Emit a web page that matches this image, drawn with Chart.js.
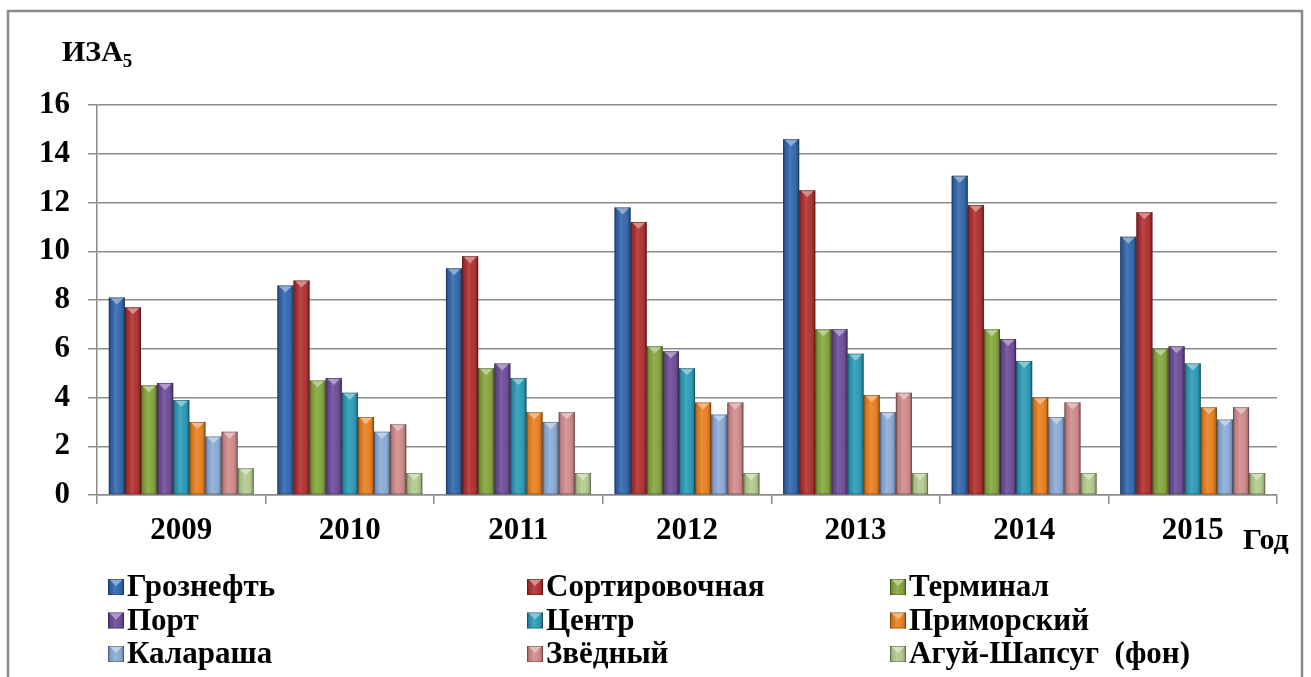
<!DOCTYPE html>
<html lang="ru">
<head>
<meta charset="utf-8">
<title>ИЗА5 по годам</title>
<script src="https://cdn.jsdelivr.net/npm/chart.js@4/dist/chart.umd.min.js"></script>
<style>
  html, body { margin: 0; padding: 0; background: #ffffff; }
  #wrap { width: 1311px; height: 677px; position: relative; }
</style>
</head>
<body>
<div id="wrap"><canvas id="c" width="1311" height="677"></canvas></div>
<script>
// Годы наблюдений
const years = ['2009', '2010', '2011', '2012', '2013', '2014', '2015'];

// Индекс загрязнения атмосферы (ИЗА5) по постам
const grozneft        = [8.1, 8.6, 9.3, 11.8, 14.6, 13.1, 10.6];
const sortirovochnaya = [7.7, 8.8, 9.8, 11.2, 12.5, 11.9, 11.6];
const terminal        = [4.5, 4.7, 5.2, 6.1, 6.8, 6.8, 6.0];
const port            = [4.6, 4.8, 5.4, 5.9, 6.8, 6.4, 6.1];
const centr           = [3.9, 4.2, 4.8, 5.2, 5.8, 5.5, 5.4];
const primorsky       = [3.0, 3.2, 3.4, 3.8, 4.1, 4.0, 3.6];
const kalarasha       = [2.4, 2.6, 3.0, 3.3, 3.4, 3.2, 3.1];
const zvezdny         = [2.6, 2.9, 3.4, 3.8, 4.2, 3.8, 3.6];
const aguiShapsug     = [1.1, 0.9, 0.9, 0.9, 0.9, 0.9, 0.9];

const seriesNames = ['Грознефть', 'Сортировочная', 'Терминал', 'Порт', 'Центр',
                     'Приморский', 'Калараша', 'Звёдный', 'Агуй-Шапсуг  (фон)'];
const seriesData = [grozneft, sortirovochnaya, terminal, port, centr,
                    primorsky, kalarasha, zvezdny, aguiShapsug];
const seriesColors = ['#3166AC', '#B02F2F', '#84A53B', '#6B4B97', '#2B9AB6',
                      '#E87F1F', '#8AAAD6', '#D08A8A', '#B2CA8D'];

// Y-axis ticks
const yMin = 0, yMax = 16, yStep = 2;

const FONT = "'Times New Roman', Times, Tinos, 'Liberation Serif', 'Nimbus Roman', 'Noto Serif', 'DejaVu Serif', FreeSerif, serif";
const GRID = '#8c8c8c';

function lighten(hex, amt) {
  const n = parseInt(hex.slice(1), 16);
  let r = (n >> 16) & 255, g = (n >> 8) & 255, b = n & 255;
  r = Math.round(r + (255 - r) * amt);
  g = Math.round(g + (255 - g) * amt);
  b = Math.round(b + (255 - b) * amt);
  return `rgb(${r},${g},${b})`;
}

// Bevelled look for a rectangle (bar or legend swatch)
function shadeRect(ctx, x0, y0, w, h, color) {
  const g = ctx.createLinearGradient(x0, 0, x0 + w, 0);
  g.addColorStop(0, 'rgba(0,0,0,0.30)');
  g.addColorStop(0.18, 'rgba(0,0,0,0.05)');
  g.addColorStop(0.40, 'rgba(255,255,255,0.12)');
  g.addColorStop(0.65, 'rgba(255,255,255,0.04)');
  g.addColorStop(0.88, 'rgba(0,0,0,0.12)');
  g.addColorStop(1, 'rgba(0,0,0,0.35)');
  ctx.fillStyle = g;
  ctx.fillRect(x0, y0, w, h);
  // top bevel triangle
  const th = Math.min(7, h);
  ctx.beginPath();
  ctx.moveTo(x0 + 1.5, y0 + 0.5);
  ctx.lineTo(x0 + w - 1.5, y0 + 0.5);
  ctx.lineTo(x0 + w / 2, y0 + th);
  ctx.closePath();
  ctx.fillStyle = lighten(color, 0.45);
  ctx.fill();
  ctx.strokeStyle = 'rgba(0,0,0,0.25)';
  ctx.lineWidth = 1;
  ctx.strokeRect(x0 + 0.5, y0 + 0.5, w - 1, h - 1);
}

const decorPlugin = {
  id: 'decor',
  afterDatasetsDraw(chart) {
    const ctx = chart.ctx;
    ctx.save();
    chart.data.datasets.forEach((ds, i) => {
      const meta = chart.getDatasetMeta(i);
      meta.data.forEach(bar => {
        const p = bar.getProps(['x', 'y', 'base', 'width'], true);
        const x0 = p.x - p.width / 2;
        const top = Math.min(p.y, p.base);
        const h = Math.abs(p.base - p.y);
        if (h > 0) shadeRect(ctx, x0, top, p.width, h, ds.backgroundColor);
      });
    });
    ctx.restore();
  },
  afterDraw(chart) {
    const ctx = chart.ctx;
    ctx.save();
    // frame
    ctx.strokeStyle = '#8a8a8a';
    ctx.lineWidth = 2.5;
    ctx.beginPath();
    ctx.moveTo(8, 690);
    ctx.lineTo(8, 11);
    ctx.lineTo(1302, 11);
    ctx.lineTo(1302, 690);
    ctx.stroke();

    // axis captions
    ctx.fillStyle = '#000';
    ctx.textBaseline = 'alphabetic';
    ctx.textAlign = 'left';
    ctx.font = 'bold 30px ' + FONT;
    ctx.fillText('ИЗА', 62, 61);
    const w = ctx.measureText('ИЗА').width;
    ctx.font = 'bold 19px ' + FONT;
    ctx.fillText('5', 62 + w, 67);

    ctx.font = 'bold 30px ' + FONT;
    ctx.fillText('Год', 1243, 549);

    // legend: three columns, three rows
    const colX = [108, 527, 890];
    const rowY = [587, 620.5, 654];
    ctx.textBaseline = 'middle';
    chart.data.datasets.forEach((ds, i) => {
      const x = colX[i % 3], y = rowY[Math.floor(i / 3)];
      ctx.fillStyle = ds.backgroundColor;
      ctx.fillRect(x, y - 8, 16, 16);
      shadeRect(ctx, x, y - 8, 16, 16, ds.backgroundColor);
      ctx.fillStyle = '#000';
      ctx.font = 'bold 31px ' + FONT;
      ctx.fillText(ds.label, x + 19, y + 1);
    });
    ctx.restore();
  }
};

new Chart(document.getElementById('c'), {
  type: 'bar',
  data: {
    labels: years,
    datasets: seriesNames.map((name, i) => ({
      label: name,
      data: seriesData[i],
      backgroundColor: seriesColors[i],
      borderWidth: 0,
      categoryPercentage: 0.86,
      barPercentage: 1.0
    }))
  },
  options: {
    responsive: false,
    animation: false,
    layout: { padding: { top: 105, left: 0, right: 34, bottom: 122 } },
    plugins: {
      legend: { display: false },
      tooltip: { enabled: false }
    },
    scales: {
      x: {
        grid: { drawOnChartArea: false, drawTicks: true, tickLength: 9, color: GRID, lineWidth: 1.5, offset: true },
        border: { color: GRID, width: 1.5 },
        ticks: { color: '#000', font: { family: FONT, size: 31, weight: 'bold' }, padding: 8, maxRotation: 0 },
        afterFit(scale) { scale.height = 60; }
      },
      y: {
        min: yMin, max: yMax,
        ticks: { stepSize: yStep, color: '#000', font: { family: FONT, size: 31, weight: 'bold' }, padding: 18 },
        grid: { color: GRID, lineWidth: 1.5, tickLength: 9, drawTicks: true },
        border: { color: GRID, width: 1.5 },
        afterFit(scale) { scale.width = 97; }
      }
    }
  },
  plugins: [decorPlugin]
});
</script>
</body>
</html>
